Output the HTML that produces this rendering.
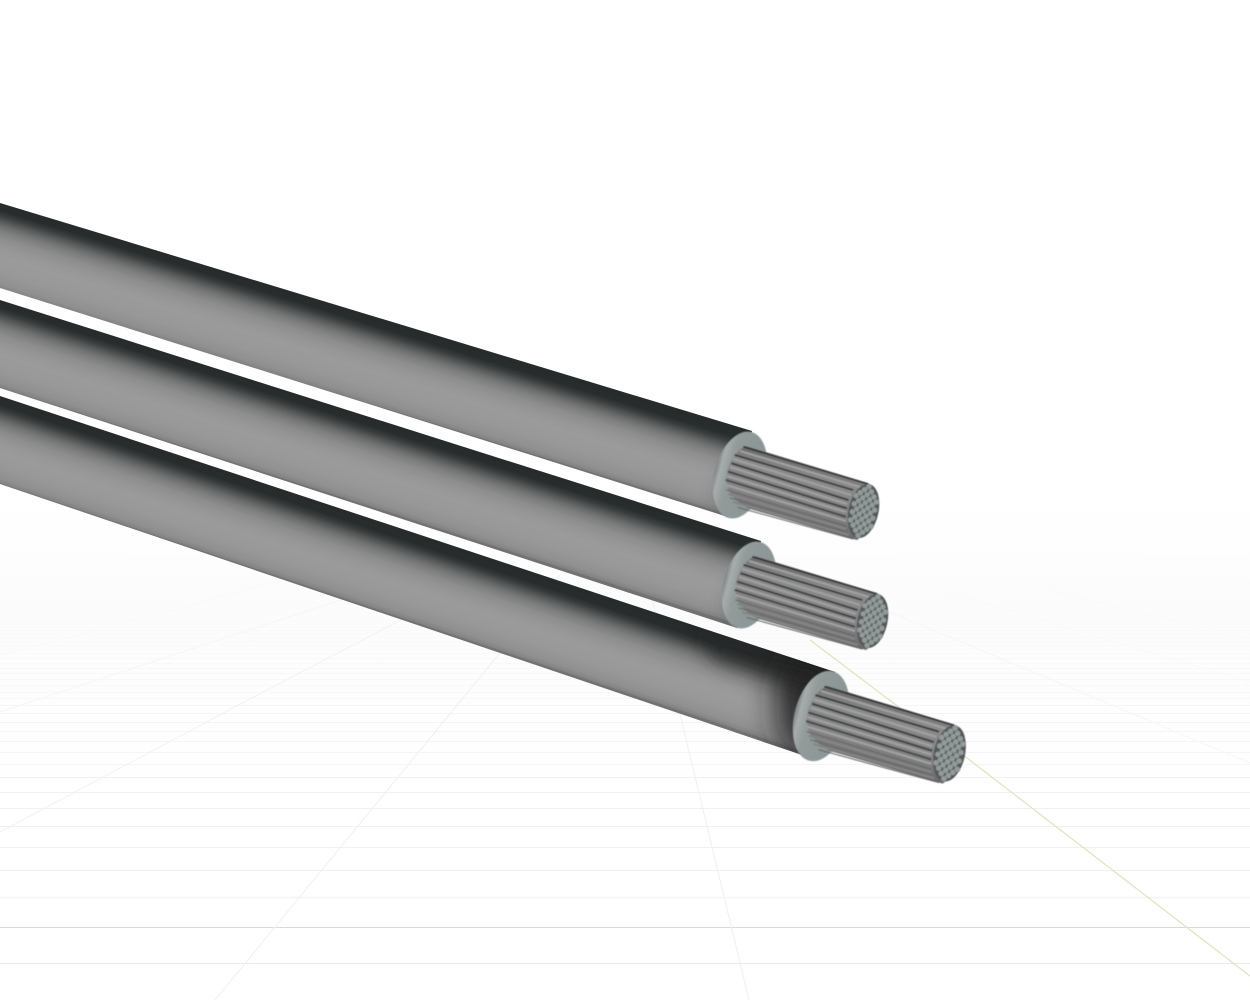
<!DOCTYPE html>
<html><head><meta charset="utf-8"><style>html,body{margin:0;padding:0;background:#fff;width:1250px;height:1000px;overflow:hidden}svg{display:block}</style></head>
<body>
<svg width="1250" height="1000" viewBox="0 0 1250 1000" xmlns="http://www.w3.org/2000/svg">
<defs>
<linearGradient id="bg" x1="0" y1="0" x2="0" y2="1"><stop offset="0.5" stop-color="#fff"/><stop offset="0.6" stop-color="#fcfcfc"/><stop offset="0.68" stop-color="#fdfdfd"/><stop offset="0.8" stop-color="#fff"/></linearGradient>
<linearGradient id="g1" gradientUnits="userSpaceOnUse" x1="0" y1="203" x2="-24.5" y2="282.3"><stop offset="0" stop-color="#262b2b"/><stop offset=".08" stop-color="#282c2c"/><stop offset=".14" stop-color="#3a3d3d"/><stop offset=".2" stop-color="#555757"/><stop offset=".26" stop-color="#6c6d6d"/><stop offset=".32" stop-color="#7e7e7e"/><stop offset=".4" stop-color="#8d8d8d"/><stop offset=".5" stop-color="#979697"/><stop offset=".62" stop-color="#9c9b9c"/><stop offset=".8" stop-color="#989898"/><stop offset=".93" stop-color="#909090"/><stop offset=".99" stop-color="#828282"/><stop offset="1" stop-color="#727272"/></linearGradient>
<linearGradient id="g2" gradientUnits="userSpaceOnUse" x1="0" y1="300" x2="-25.6" y2="379.8"><stop offset="0" stop-color="#262b2b"/><stop offset=".08" stop-color="#282c2c"/><stop offset=".14" stop-color="#3a3d3d"/><stop offset=".2" stop-color="#555757"/><stop offset=".26" stop-color="#6c6d6d"/><stop offset=".32" stop-color="#7e7e7e"/><stop offset=".4" stop-color="#8d8d8d"/><stop offset=".5" stop-color="#979697"/><stop offset=".62" stop-color="#9c9b9c"/><stop offset=".8" stop-color="#989898"/><stop offset=".93" stop-color="#909090"/><stop offset=".99" stop-color="#828282"/><stop offset="1" stop-color="#727272"/></linearGradient>
<linearGradient id="g3" gradientUnits="userSpaceOnUse" x1="0" y1="396" x2="-26.4" y2="475"><stop offset="0" stop-color="#262b2b"/><stop offset=".1" stop-color="#282c2c"/><stop offset=".16" stop-color="#3a3d3d"/><stop offset=".22" stop-color="#555757"/><stop offset=".28" stop-color="#6c6d6d"/><stop offset=".34" stop-color="#7e7e7e"/><stop offset=".42" stop-color="#8d8d8d"/><stop offset=".52" stop-color="#979697"/><stop offset=".64" stop-color="#9c9b9c"/><stop offset=".8" stop-color="#989898"/><stop offset=".93" stop-color="#909090"/><stop offset=".99" stop-color="#828282"/><stop offset="1" stop-color="#727272"/></linearGradient>
<linearGradient id="capg" x1="0" y1="0" x2="1" y2="0"><stop offset="0" stop-color="#7d8484"/><stop offset=".1" stop-color="#a7adad"/><stop offset=".28" stop-color="#929a9a"/><stop offset="1" stop-color="#8b9595"/></linearGradient>
<linearGradient id="coreg" gradientUnits="userSpaceOnUse" x1="805" y1="465" x2="790" y2="525"><stop offset="0" stop-color="#6e6e6e"/><stop offset=".15" stop-color="#8a8a8a"/><stop offset=".65" stop-color="#848484"/><stop offset="1" stop-color="#666"/></linearGradient>
<filter id="soft" x="-20%" y="-20%" width="140%" height="140%"><feGaussianBlur stdDeviation="0.45"/></filter>
<filter id="b14" x="-60%" y="-60%" width="220%" height="220%"><feGaussianBlur stdDeviation="16"/></filter>
<filter id="b9" x="-60%" y="-60%" width="220%" height="220%"><feGaussianBlur stdDeviation="9"/></filter>
<clipPath id="c1"><polygon points="0,203 752,431 728,517 0,288"/></clipPath>
<clipPath id="c2"><polygon points="0,300 761,541 737,628 0,388"/></clipPath>
<clipPath id="c3"><polygon points="0,396 835,672 808,757 0,484"/></clipPath>
<g id="head">
  <ellipse cx="740" cy="475" rx="25.5" ry="44.5" transform="rotate(15 740 475)" fill="url(#capg)" filter="url(#soft)"/>
  <g filter="url(#soft)">
    <path d="M746,446 L868,483 L878,497 L879,506 L873,522 L866,533 L857,540 L750,509 Q736,503 729,491 Q724,480 729,466 Q735,451 746,446 Z" fill="url(#coreg)"/>
    <g fill="none" stroke="#a0a0a0" stroke-width="2.2">
      <path d="M740,451 L860,487"/><path d="M733,459 L851,495"/><path d="M730,467 L847,504"/><path d="M727,476 L846,512"/><path d="M726,485 L846,521"/>
    </g>
    <g fill="none" stroke="#858585" stroke-width="2">
      <path d="M728,494 L846,529"/><path d="M733,502 L849,535"/>
    </g>
    <g fill="none" stroke="#5a5c5c" stroke-width="2.4" opacity=".75">
      <path d="M735,455 L853,490"/><path d="M731.7,463.3 L848.3,500"/><path d="M728.3,471.7 L846.7,508.3"/><path d="M726,480 L845.7,516.7"/>
    </g>
    <g fill="none" stroke-linecap="round">
      <path d="M744,447 L868,484" stroke="#2f3232" stroke-width="1.6"/>
      <path d="M735,455 L853,490" stroke="#2a2d2d" stroke-width="1.1"/>
      <path d="M731.7,463.3 L848.3,500" stroke="#2a2d2d" stroke-width="1.1"/>
      <path d="M728.3,471.7 L846.7,508.3" stroke="#333636" stroke-width="1.1"/>
      <path d="M726,480 L845.7,516.7" stroke="#3d4040" stroke-width="1.1"/>
      <path d="M726.7,490 L845.7,526" stroke="#666" stroke-width="1"/>
      <path d="M730,498 L846.7,531.7" stroke="#6c6c6c" stroke-width="1"/>
      <path d="M738,507.5 L853,539" stroke="#666" stroke-width="1"/>
    </g>
    <ellipse cx="863.5" cy="511" rx="15" ry="27.5" transform="rotate(12.5 863.5 511)" fill="#535858"/>
    <g fill="#929a9a" stroke="#666b6b" stroke-width=".3">
      <circle cx="868.9" cy="486.7" r="2.8"/><circle cx="871.4" cy="491.8" r="2.8"/><circle cx="873.9" cy="496.9" r="2.8"/><circle cx="876.4" cy="502" r="2.8"/>
      <circle cx="864.6" cy="489.7" r="2.8"/><circle cx="867.1" cy="494.8" r="2.8"/><circle cx="869.6" cy="499.9" r="2.8"/><circle cx="872.1" cy="505" r="2.8"/><circle cx="874.6" cy="510.1" r="2.8"/>
      <circle cx="860.3" cy="492.7" r="2.8"/><circle cx="862.8" cy="497.8" r="2.8"/><circle cx="865.3" cy="502.9" r="2.8"/><circle cx="867.8" cy="508" r="2.8"/><circle cx="870.3" cy="513.1" r="2.8"/><circle cx="872.8" cy="518.2" r="2.8"/>
      <circle cx="856" cy="495.7" r="2.8"/><circle cx="858.5" cy="500.8" r="2.8"/><circle cx="861" cy="505.9" r="2.8"/><circle cx="863.5" cy="511" r="2.8"/><circle cx="866" cy="516.1" r="2.8"/><circle cx="868.5" cy="521.2" r="2.8"/><circle cx="871" cy="526.3" r="2.8"/>
      <circle cx="854.2" cy="503.8" r="2.8"/><circle cx="856.7" cy="508.9" r="2.8"/><circle cx="859.2" cy="514" r="2.8"/><circle cx="861.7" cy="519.1" r="2.8"/><circle cx="864.2" cy="524.2" r="2.8"/><circle cx="866.7" cy="529.3" r="2.8"/>
      <circle cx="852.4" cy="511.9" r="2.8"/><circle cx="854.9" cy="517" r="2.8"/><circle cx="857.4" cy="522.1" r="2.8"/><circle cx="859.9" cy="527.2" r="2.8"/><circle cx="862.4" cy="532.3" r="2.8"/>
      <circle cx="850.6" cy="520" r="2.8"/><circle cx="853.1" cy="525.1" r="2.8"/><circle cx="855.6" cy="530.2" r="2.8"/><circle cx="858.1" cy="535.3" r="2.8"/>
    </g>
  </g>
</g>
</defs>
<rect width="1250" height="1000" fill="url(#bg)"/>
<g fill="none" stroke-width="1">
  <path d="M0,963.5H1250" stroke="#ebebeb"/>
  <path d="M0,927.5H1250" stroke="#edd3d3"/>
  <path d="M0,897.5H1250" stroke="#f4f4f4" stroke-width="1.5"/>
  <path d="M0,870.5H1250M0,847.5H1250M0,826.5H1250M0,808.5H1250M0,792.5H1250M0,777.5H1250" stroke="#f1f1f1"/>
  <path d="M0,764.5H1250M0,752.5H1250M0,741.5H1250M0,731.5H1250M0,722.5H1250M0,713.5H1250M0,705.5H1250" stroke="#f5f5f5"/>
  <path d="M0,698.5H1250M0,692.5H1250M0,685.5H1250M0,679.5H1250M0,673.5H1250M0,668.5H1250M0,663.5H1250M0,658.5H1250" stroke="#f8f8f8"/>
  <path d="M0,653.5H1250M0,649.5H1250M0,645.5H1250M0,641.5H1250M0,637.5H1250M0,633.5H1250M0,630.5H1250M0,627.5H1250" stroke="#fafafa"/>
  <path d="M0,624.5H1250M0,621.5H1250M0,618.5H1250M0,615.5H1250M0,612.5H1250M0,609.5H1250M0,607.5H1250M0,604.5H1250M0,601.5H1250" stroke="#fbfbfb"/>
  <path d="M749,1000L650,590" stroke="#efefef"/>
  <path d="M215,1000L500,653L560,575" stroke="#f0f0f0"/>
  <path d="M0,832L248,700L420,610" stroke="#f2f2f2"/>
  <path d="M0,712L167,657L350,597" stroke="#f6f6f6"/>
  <path d="M0,655L110,627L300,575" stroke="#f9f9f9"/>
  <path d="M890,612L1250,763" stroke="#f6f6f6"/>
  <path d="M947,592L1250,682" stroke="#f9f9f9"/>
  <path d="M1047,590L1250,638" stroke="#fafafa"/>
  <path d="M1147,590L1250,612" stroke="#fbfbfb"/>
  <path d="M810,640L900,708L967,758L1250,976" stroke="#dbe4c2" stroke-width="1.2"/>
</g>
<polygon points="0,203 752,431 728,517 0,288" fill="url(#g1)"/>
<g clip-path="url(#c1)"><ellipse cx="738" cy="497" rx="22" ry="26" fill="#3a3a3a" opacity=".3" filter="url(#b9)"/></g>
<use href="#head"/>
<polygon points="0,300 761,541 737,628 0,388" fill="url(#g2)"/>
<g clip-path="url(#c2)"><ellipse cx="747" cy="607" rx="22" ry="26" fill="#3a3a3a" opacity=".3" filter="url(#b9)"/></g>
<use href="#head" transform="translate(9 110)"/>
<polygon points="0,396 835,672 808,757 0,484" fill="url(#g3)"/>
<g clip-path="url(#c3)"><ellipse cx="806" cy="703" rx="30" ry="58" fill="#1c1c1c" opacity=".9" filter="url(#b14)"/><polygon points="700,635 835,672 815,692 715,660" fill="#252727" opacity=".7" filter="url(#b9)"/></g>
<use href="#head" transform="translate(821 716) scale(1.04) translate(-740 -475)"/>
</svg>
</body></html>
